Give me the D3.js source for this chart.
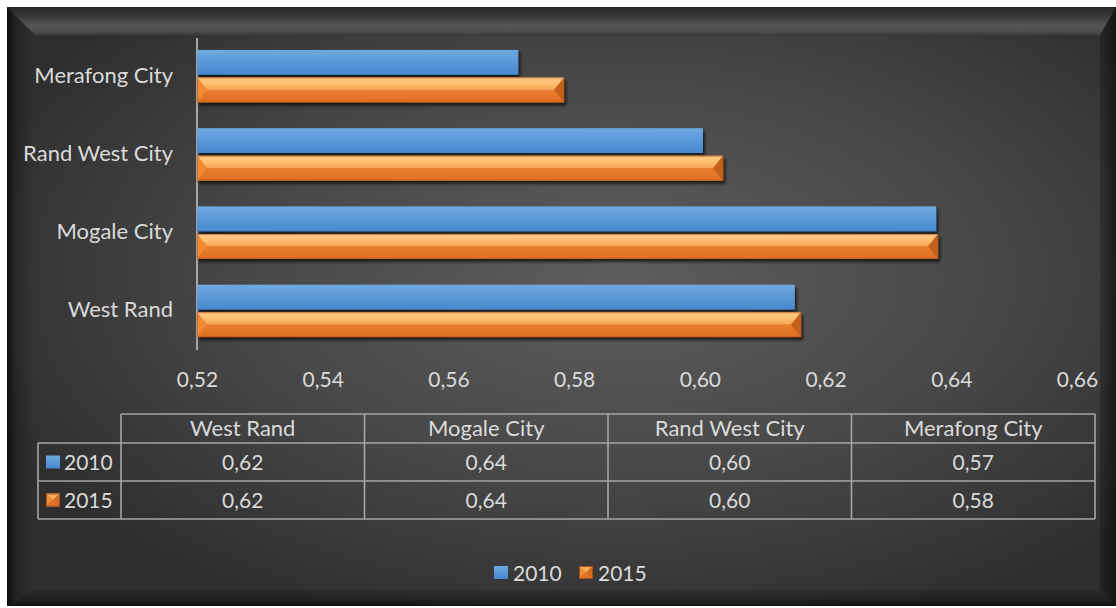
<!DOCTYPE html>
<html>
<head>
<meta charset="utf-8">
<script src="https://cdn.jsdelivr.net/npm/d3@7"></script>
<style>
  html, body { margin: 0; padding: 0; background: #ffffff; }
  svg { display: block; }
  text { font-family: Lato, "Open Sans", sans-serif; fill: #dadada; }
</style>
</head>
<body>
<svg id="chart" width="1116" height="608"></svg>
<script>
// Categories (data table order, bottom bar first)
const categories = ["West Rand", "Mogale City", "Rand West City", "Merafong City"];
const seriesNames = ["2010", "2015"];
const values2010 = [0.6151, 0.6376, 0.6005, 0.5711];
const values2015 = [0.6161, 0.6379, 0.6037, 0.5784];
const tickValues = [0.52, 0.54, 0.56, 0.58, 0.60, 0.62, 0.64, 0.66];

const fmt = v => d3.format(".2f")(v).replace(".", ",");

const svg = d3.select("#chart");
const defs = svg.append("defs");

// ---------- background panel with bevelled frame ----------
const bg = defs.append("radialGradient").attr("id", "bgGrad")
  .attr("cx", "0.55").attr("cy", "0.45").attr("r", "0.62");
bg.append("stop").attr("offset", "0").attr("stop-color", "#5e5e5e");
bg.append("stop").attr("offset", "0.55").attr("stop-color", "#474747");
bg.append("stop").attr("offset", "1").attr("stop-color", "#2e2e2e");

const L = 7, T = 7, R = 1116, B = 606;
svg.append("rect").attr("x", L).attr("y", T).attr("width", R - L).attr("height", B - T)
  .attr("fill", "url(#bgGrad)");

const topG = defs.append("linearGradient").attr("id", "topFace").attr("x1", 0).attr("y1", 0).attr("x2", 0).attr("y2", 1);
[["0", "#262626"], ["0.35", "#3a3a3a"], ["0.65", "#565656"], ["0.85", "#4f4f4f"], ["1", "#3a3a3a"]]
  .forEach(s => topG.append("stop").attr("offset", s[0]).attr("stop-color", s[1]));
const leftG = defs.append("linearGradient").attr("id", "leftFace").attr("x1", 0).attr("y1", 0).attr("x2", 1).attr("y2", 0);
[["0", 0.7], ["0.3", 0.25], ["1", 0.0]]
  .forEach(s => leftG.append("stop").attr("offset", s[0]).attr("stop-color", "#000").attr("stop-opacity", s[1]));
const rightG = defs.append("linearGradient").attr("id", "rightFace").attr("x1", 0).attr("y1", 0).attr("x2", 1).attr("y2", 0);
[["0", 0.2], ["1", 0.55]]
  .forEach(s => rightG.append("stop").attr("offset", s[0]).attr("stop-color", "#000").attr("stop-opacity", s[1]));
const botG = defs.append("linearGradient").attr("id", "botFace").attr("x1", 0).attr("y1", 0).attr("x2", 0).attr("y2", 1);
[["0", 0.12], ["0.6", 0.3], ["1", 0.6]]
  .forEach(s => botG.append("stop").attr("offset", s[0]).attr("stop-color", "#000").attr("stop-opacity", s[1]));

const iL = 35, iT = 35, iR = 1100, iB = 590;
svg.append("polygon").attr("points", [[L, T], [R, T], [iR, iT], [iL, iT]].join(" ")).attr("fill", "url(#topFace)");
svg.append("polygon").attr("points", [[L, T], [iL, iT], [iL, iB], [L, B]].join(" ")).attr("fill", "url(#leftFace)");
svg.append("polygon").attr("points", [[R, T], [R, B], [iR, iB], [iR, iT]].join(" ")).attr("fill", "url(#rightFace)");
svg.append("polygon").attr("points", [[L, B], [R, B], [iR, iB], [iL, iB]].join(" ")).attr("fill", "url(#botFace)");

// ---------- scales ----------
const x = d3.scaleLinear().domain([0.52, 0.66]).range([197, 1077]);
const yCat = d3.scaleBand().domain(categories.slice().reverse()).range([37, 350])
  .paddingInner(0.33).paddingOuter(0.165);
const ySer = d3.scaleBand().domain(seriesNames).range([0, yCat.bandwidth()]).paddingInner(0.1);

// ---------- gradients and shadow for bars ----------
const blueG = defs.append("linearGradient").attr("id", "blueBar").attr("x1", 0).attr("y1", 0).attr("x2", 0).attr("y2", 1);
blueG.append("stop").attr("offset", "0").attr("stop-color", "#6ea9e0");
blueG.append("stop").attr("offset", "1").attr("stop-color", "#4688cf");

const orTop = defs.append("linearGradient").attr("id", "orTop").attr("x1", 0).attr("y1", 0).attr("x2", 0).attr("y2", 1);
orTop.append("stop").attr("offset", "0").attr("stop-color", "#ffc88a");
orTop.append("stop").attr("offset", "0.5").attr("stop-color", "#ffc070");
orTop.append("stop").attr("offset", "1").attr("stop-color", "#f3a253");
const orBot = defs.append("linearGradient").attr("id", "orBot").attr("x1", 0).attr("y1", 0).attr("x2", 0).attr("y2", 1);
orBot.append("stop").attr("offset", "0").attr("stop-color", "#ea7d2e");
orBot.append("stop").attr("offset", "1").attr("stop-color", "#df6f27");

const shadow = defs.append("filter").attr("id", "shadow").attr("x", "-5%").attr("y", "-30%").attr("width", "110%").attr("height", "170%");
shadow.append("feDropShadow").attr("dx", 2).attr("dy", 3).attr("stdDeviation", 1.6)
  .attr("flood-color", "#000").attr("flood-opacity", 0.65);

// ---------- axis line ----------
svg.append("line").attr("x1", x(0.52)).attr("x2", x(0.52))
  .attr("y1", 38).attr("y2", 350).attr("stroke", "#a6a6a6").attr("stroke-width", 2);

// ---------- bars ----------
const rows = categories.map((c, i) => ({ cat: c, v2010: values2010[i], v2015: values2015[i] }));

const gBars = svg.append("g");
rows.forEach(r => {
  const y0 = yCat(r.cat);
  // 2010: plain blue bar
  const by = y0 + ySer("2010"), bh = ySer.bandwidth();
  gBars.append("rect")
    .attr("x", x(0.52)).attr("y", by)
    .attr("width", x(r.v2010) - x(0.52)).attr("height", bh)
    .attr("fill", "url(#blueBar)").attr("filter", "url(#shadow)");

  // 2015: bevelled orange bar
  const oy = y0 + ySer("2015"), oh = ySer.bandwidth();
  const x0 = x(0.52), x1 = x(r.v2015), mid = oy + oh / 2, bev = 10;
  const g = gBars.append("g").attr("filter", "url(#shadow)");
  g.append("rect").attr("x", x0).attr("y", oy).attr("width", x1 - x0).attr("height", oh)
    .attr("fill", "#d96a22");
  g.append("polygon").attr("points", [[x0, oy], [x1, oy], [x1 - bev, mid], [x0 + bev, mid]].join(" "))
    .attr("fill", "url(#orTop)");
  g.append("polygon").attr("points", [[x0, oy + oh], [x1, oy + oh], [x1 - bev, mid], [x0 + bev, mid]].join(" "))
    .attr("fill", "url(#orBot)");
  g.append("polygon").attr("points", [[x0, oy], [x0 + bev, mid], [x0, oy + oh]].join(" "))
    .attr("fill", "#f28a36");
  g.append("polygon").attr("points", [[x1, oy], [x1 - bev, mid], [x1, oy + oh]].join(" "))
    .attr("fill", "#c4601f");
  g.append("rect").attr("x", x0 + 0.5).attr("y", oy + 0.5).attr("width", x1 - x0 - 1).attr("height", oh - 1)
    .attr("fill", "none").attr("stroke", "#b85718").attr("stroke-opacity", 0.6).attr("stroke-width", 1);
});

// ---------- category labels ----------
svg.append("g").selectAll("text").data(categories).join("text")
  .attr("x", 173).attr("y", d => yCat(d) + yCat.bandwidth() / 2 - 2)
  .attr("text-anchor", "end").attr("dominant-baseline", "central")
  .style("font-size", "22px").text(d => d);

// ---------- value axis tick labels ----------
const xAxis = d3.axisBottom(x).tickValues(tickValues).tickFormat(fmt).tickSize(0).tickPadding(0);
const axG = svg.append("g").attr("transform", "translate(0,372)").call(xAxis);
axG.select(".domain").remove();
axG.selectAll("text").style("font-size", "21px").attr("fill", "#dadada")
  .attr("font-family", null).attr("dy", "0.71em");

// ---------- data table ----------
const colX = d3.scaleBand().domain(categories).range([121, 1095]);
const tblLeft = 38, rowY = [414, 443, 481, 519];
const lineColor = "#a6a6a6";
const tbl = svg.append("g").attr("stroke", lineColor).attr("stroke-width", 1.6).attr("fill", "none");
// horizontal lines
tbl.append("line").attr("x1", 121).attr("x2", 1095).attr("y1", rowY[0]).attr("y2", rowY[0]);
[rowY[1], rowY[2], rowY[3]].forEach(yy =>
  tbl.append("line").attr("x1", tblLeft).attr("x2", 1095).attr("y1", yy).attr("y2", yy));
// vertical lines
tbl.append("line").attr("x1", tblLeft).attr("x2", tblLeft).attr("y1", rowY[1]).attr("y2", rowY[3]);
categories.forEach(c =>
  tbl.append("line").attr("x1", colX(c)).attr("x2", colX(c)).attr("y1", rowY[0]).attr("y2", rowY[3]));
tbl.append("line").attr("x1", 1095).attr("x2", 1095).attr("y1", rowY[0]).attr("y2", rowY[3]);

const tText = svg.append("g").attr("text-anchor", "middle");
categories.forEach(c => {
  tText.append("text").attr("x", colX(c) + colX.bandwidth() / 2).attr("y", (rowY[0] + rowY[1]) / 2 - 1.5)
    .attr("dominant-baseline", "central").style("font-size", "22px").text(c);
});
const seriesVals = [values2010, values2015];
seriesVals.forEach((vals, si) => {
  const cy = (rowY[si + 1] + rowY[si + 2]) / 2 - 0.5;
  vals.forEach((v, ci) => {
    tText.append("text").attr("x", colX(categories[ci]) + colX.bandwidth() / 2).attr("y", cy)
      .attr("dominant-baseline", "central").style("font-size", "21px").text(fmt(v));
  });
});

// legend markers
function blueKey(parent, kx, ky) {
  parent.append("rect").attr("x", kx).attr("y", ky).attr("width", 14).attr("height", 13)
    .attr("fill", "url(#blueBar)");
}
function orangeKey(parent, kx, ky) {
  const w = 14, h = 13, cx = kx + w / 2, cy = ky + h / 2;
  const k = parent.append("g");
  k.append("rect").attr("x", kx).attr("y", ky).attr("width", w).attr("height", h).attr("fill", "#d06420");
  k.append("polygon").attr("points", [[kx, ky], [kx + w, ky], [cx, cy]].join(" ")).attr("fill", "#fbb060");
  k.append("polygon").attr("points", [[kx, ky], [cx, cy], [kx, ky + h]].join(" ")).attr("fill", "#f08a36");
  k.append("polygon").attr("points", [[kx + w, ky], [cx, cy], [kx + w, ky + h]].join(" ")).attr("fill", "#d46a24");
  k.append("polygon").attr("points", [[kx, ky + h], [cx, cy], [kx + w, ky + h]].join(" ")).attr("fill", "#e2742a");
  k.append("rect").attr("x", kx + 0.5).attr("y", ky + 0.5).attr("width", w - 1).attr("height", h - 1)
    .attr("fill", "none").attr("stroke", "#a9501a").attr("stroke-width", 1);
}

const keyFns = [blueKey, orangeKey];
seriesNames.forEach((s, si) => {
  const cy = (rowY[si + 1] + rowY[si + 2]) / 2;
  keyFns[si](svg, 46, cy - 6.5);
  svg.append("text").attr("x", 64).attr("y", cy - 0.5).attr("dominant-baseline", "central")
    .style("font-size", "21px").text(s);
});

// ---------- bottom legend ----------
const legendX = [494, 579];
seriesNames.forEach((s, si) => {
  keyFns[si](svg, legendX[si], 566);
  svg.append("text").attr("x", legendX[si] + 19).attr("y", 572).attr("dominant-baseline", "central")
    .style("font-size", "21px").text(s);
});
</script>
</body>
</html>
